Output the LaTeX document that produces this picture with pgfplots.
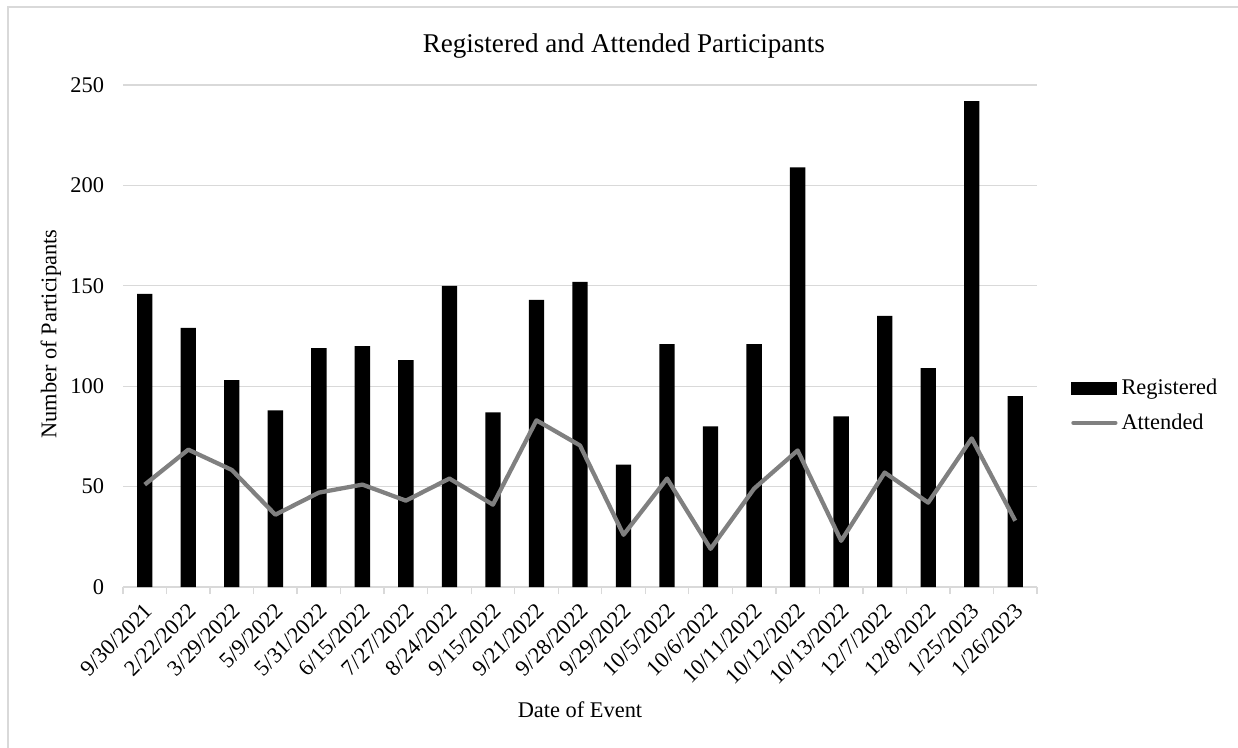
\documentclass[border=0pt]{standalone}
\usepackage{fontspec}
\setmainfont{Liberation Serif}
\usepackage{pgfplots}
\pgfplotsset{compat=1.18}
\definecolor{gridgray}{HTML}{D9D9D9}
\definecolor{linegray}{HTML}{808080}
\begin{document}
\begin{tikzpicture}
\useasboundingbox (0pt,0pt) rectangle (928.5pt,560.25pt);
\draw[gridgray, line width=1.1pt] (6pt,-10pt) -- (6pt,555pt) -- (940pt,555pt);
\begin{axis}[
  scale only axis,
  width=685.5pt, height=376.5pt,
  at={(92.25pt,120pt)}, anchor=south west,
  xmin=-0.5, xmax=20.5, ymin=0, ymax=250,
  ytick={0,50,...,250},
  xtick={0,...,20},
  xticklabels={9/30/2021,2/22/2022,3/29/2022,5/9/2022,5/31/2022,6/15/2022,7/27/2022,8/24/2022,9/15/2022,9/21/2022,9/28/2022,9/29/2022,10/5/2022,10/6/2022,10/11/2022,10/12/2022,10/13/2022,12/7/2022,12/8/2022,1/25/2023,1/26/2023},
  minor xtick={-0.5,0.5,...,20.5},
  major tick length=0pt,
  minor tick length=5.25pt,
  tick align=outside,
  minor tick style={gridgray, line width=1pt},
  axis x line*=bottom,
  axis y line*=left,
  x axis line style={gridgray, line width=1pt, -},
  y axis line style={draw=none},
  ymajorgrids,
  major grid style={gridgray, line width=1pt},
  tick label style={font=\fontsize{16.8}{20}\selectfont, black},
  /pgf/number format/assume math mode=true,
  yticklabel style={anchor=east, inner sep=0pt, xshift=-14pt},
  xticklabel style={xshift=-1.05pt, yshift=-9.8pt, rotate=45, anchor=north east, inner sep=1pt},
  title={Registered and Attended Participants},
  title style={font=\fontsize{20.3}{24}\selectfont, at={(axis description cs:0.548,1.062)}, anchor=center},
  xlabel={Date of Event},
  xlabel style={font=\fontsize{16.8}{20}\selectfont, at={(axis description cs:0.5,-0.245)}, anchor=center},
  ylabel={Number of Participants},
  ylabel style={font=\fontsize{16.8}{20}\selectfont, at={(axis description cs:-0.0788,0.504)}, anchor=center},
  legend style={at={(axis description cs:1.0372,0.3616)}, anchor=west, draw=none, fill=none,
    font=\fontsize{16.8}{20}\selectfont, inner sep=0pt, row sep=11pt,
    nodes={inner xsep=3pt, inner ysep=1pt}},
  legend cell align=left,
]
\addplot[ybar, bar width=11.5pt, fill=black, draw=none,
  legend image code/.code={\fill[black] (0pt,-4.9pt) rectangle (34.5pt,4.9pt);}]
  coordinates {
  (0,146) (1,129) (2,103) (3,88) (4,119) (5,120) (6,113) (7,150) (8,87) (9,143)
  (10,152) (11,61) (12,121) (13,80) (14,121) (15,209) (16,85) (17,135) (18,109) (19,242) (20,95)
  };
\addlegendentry{Registered}
\addplot[sharp plot, linegray, line width=3.2pt, line join=round, mark=none,
  legend image code/.code={\draw[linegray, line width=3.2pt, line cap=round] (1.5pt,0pt) -- (33pt,0pt);}]
  coordinates {
  (0,51) (1,68.4) (2,58.3) (3,36) (4,47) (5,51) (6,43) (7,54) (8,41) (9,83)
  (10,70.5) (11,26) (12,54) (13,19) (14,49) (15,68) (16,23) (17,57) (18,42) (19,74) (20,33)
  };
\addlegendentry{Attended}
\end{axis}
\end{tikzpicture}
\end{document}
